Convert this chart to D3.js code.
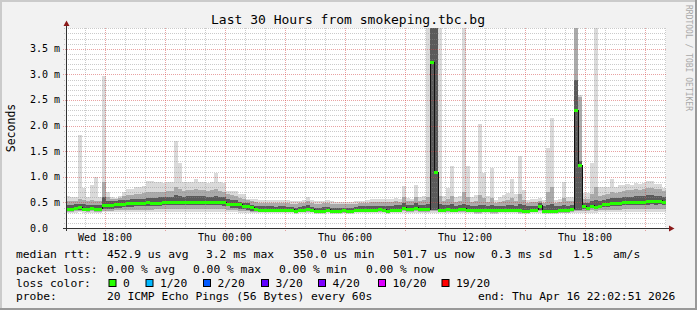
<!DOCTYPE html>
<html>
<head>
<meta charset="utf-8">
<script src="https://cdn.jsdelivr.net/npm/d3@7"></script>
<style>
body { margin: 0; background: #fff; }
svg { display: block; font-family: "DejaVu Sans Mono", monospace; }
text { white-space: pre; }
</style>
</head>
<body>
<svg id="chart" width="697" height="310"></svg>
<script>
// smokeping graph, 30 hours, one column = 720 s
var startTime = "2026-04-15T16:02:51Z";
var endTime = "2026-04-16T22:02:51Z";
var stepSec = 720;

// median rtt per column (ms)
var medMs = [
 0.38,0.38,0.39,0.41,0.38,0.38,0.39,0.38,0.38,0.44,
 0.45,0.45,0.47,0.47,0.47,0.48,0.48,0.48,0.49,0.49,
 0.50,0.49,0.49,0.49,0.50,0.51,0.50,0.51,0.51,0.50,
 0.51,0.51,0.50,0.51,0.51,0.50,0.50,0.50,0.50,0.50,
 0.47,0.47,0.47,0.46,0.42,0.42,0.41,0.37,0.36,0.36,
 0.36,0.36,0.35,0.36,0.36,0.35,0.36,0.34,0.36,0.36,
 0.37,0.36,0.34,0.34,0.34,0.36,0.34,0.34,0.34,0.35,
 0.34,0.34,0.36,0.36,0.36,0.35,0.36,0.36,0.37,0.36,
 0.34,0.36,0.36,0.36,0.40,0.38,0.38,0.40,0.37,0.37,
 0.37,3.24,1.09,0.36,0.36,0.37,0.36,0.36,0.37,0.38,
 0.36,0.36,0.35,0.35,0.36,0.36,0.35,0.35,0.36,0.36,
 0.36,0.36,0.36,0.35,0.34,0.34,0.36,0.36,0.43,0.34,
 0.34,0.34,0.34,0.35,0.35,0.35,0.38,2.30,1.23,0.42,
 0.40,0.43,0.41,0.43,0.46,0.46,0.48,0.48,0.49,0.50,
 0.50,0.50,0.50,0.50,0.50,0.52,0.53,0.52,0.53,0.51
];
// smoke: outer (min..max) ping spread per column
var pingMin = [
 0.30,0.30,0.30,0.31,0.30,0.30,0.30,0.30,0.30,0.31,
 0.31,0.31,0.31,0.31,0.31,0.31,0.31,0.31,0.31,0.31,
 0.32,0.32,0.32,0.32,0.32,0.32,0.32,0.32,0.32,0.32,
 0.32,0.32,0.32,0.32,0.32,0.32,0.32,0.32,0.32,0.32,
 0.31,0.31,0.31,0.30,0.30,0.30,0.29,0.29,0.29,0.29,
 0.29,0.29,0.29,0.29,0.29,0.29,0.29,0.28,0.29,0.29,
 0.29,0.29,0.28,0.28,0.28,0.29,0.28,0.28,0.28,0.29,
 0.28,0.28,0.29,0.29,0.29,0.29,0.29,0.29,0.29,0.29,
 0.28,0.29,0.29,0.29,0.29,0.29,0.29,0.29,0.29,0.29,
 0.29,0.29,0.29,0.29,0.29,0.29,0.29,0.29,0.29,0.29,
 0.29,0.29,0.28,0.28,0.29,0.29,0.28,0.28,0.29,0.29,
 0.29,0.29,0.29,0.28,0.28,0.28,0.29,0.29,0.29,0.28,
 0.28,0.28,0.28,0.29,0.29,0.29,0.29,0.29,0.29,0.30,
 0.30,0.30,0.30,0.31,0.31,0.31,0.31,0.31,0.32,0.32,
 0.32,0.32,0.32,0.32,0.32,0.32,0.32,0.32,0.32,0.32
];
var pingMax = [
 0.62,0.60,0.60,1.82,0.78,0.60,0.84,0.99,0.60,2.97,
 0.71,0.60,0.58,0.62,0.70,0.77,0.77,0.80,0.80,0.82,
 0.92,0.92,0.89,0.89,0.87,0.90,0.90,1.70,1.27,0.90,
 0.90,0.90,0.95,0.90,0.90,0.88,0.90,1.07,0.90,0.87,
 0.73,0.73,0.73,0.67,0.67,0.57,0.57,0.57,0.55,0.55,
 0.54,0.55,0.55,0.54,0.55,0.54,0.52,0.52,0.53,0.55,
 0.61,0.54,0.52,0.52,0.53,0.54,0.53,0.51,0.50,0.50,
 0.50,0.51,0.52,0.53,0.53,0.54,0.56,0.56,0.57,0.57,
 0.57,0.57,0.58,0.57,0.82,0.58,0.57,0.84,0.60,0.62,
 3.95,3.95,3.95,3.95,0.62,0.78,1.21,0.60,0.62,3.95,
 1.21,0.60,0.65,2.04,1.07,0.62,1.17,0.55,0.60,0.64,
 0.68,0.96,0.66,1.41,0.74,0.55,0.57,0.57,0.58,0.55,
 1.56,2.15,0.55,0.57,0.90,0.60,0.60,3.95,2.60,0.68,
 0.68,1.27,3.95,0.80,0.80,0.80,0.95,0.80,0.84,0.84,
 0.86,0.84,0.88,0.86,0.88,0.92,0.92,0.86,0.86,0.78
];
// smoke: middle band
var midLow = [
 0.32,0.32,0.33,0.34,0.33,0.32,0.33,0.32,0.32,0.34,
 0.34,0.34,0.35,0.35,0.35,0.35,0.35,0.36,0.36,0.36,
 0.36,0.36,0.37,0.37,0.37,0.37,0.37,0.38,0.38,0.37,
 0.37,0.37,0.37,0.37,0.37,0.37,0.37,0.37,0.37,0.37,
 0.36,0.35,0.35,0.34,0.34,0.33,0.32,0.31,0.31,0.31,
 0.31,0.31,0.31,0.31,0.31,0.31,0.31,0.30,0.31,0.31,
 0.31,0.31,0.30,0.30,0.30,0.31,0.30,0.30,0.30,0.30,
 0.30,0.30,0.31,0.31,0.31,0.31,0.31,0.31,0.32,0.31,
 0.30,0.31,0.31,0.31,0.33,0.32,0.32,0.33,0.32,0.32,
 0.32,0.33,0.33,0.31,0.31,0.32,0.31,0.31,0.32,0.32,
 0.31,0.31,0.30,0.30,0.31,0.31,0.30,0.30,0.31,0.31,
 0.31,0.31,0.31,0.30,0.30,0.30,0.31,0.31,0.33,0.30,
 0.30,0.30,0.30,0.30,0.30,0.30,0.32,0.33,0.33,0.34,
 0.34,0.35,0.34,0.35,0.35,0.35,0.36,0.36,0.36,0.37,
 0.37,0.37,0.37,0.37,0.37,0.38,0.38,0.38,0.38,0.37
];
var midHigh = [
 0.52,0.52,0.53,0.56,0.54,0.52,0.54,0.53,0.52,0.90,
 0.60,0.57,0.57,0.58,0.62,0.64,0.65,0.66,0.67,0.68,
 0.70,0.70,0.71,0.70,0.70,0.72,0.72,0.80,0.76,0.73,
 0.74,0.74,0.76,0.75,0.74,0.73,0.74,0.76,0.73,0.71,
 0.66,0.64,0.62,0.58,0.56,0.54,0.52,0.50,0.49,0.49,
 0.49,0.49,0.48,0.48,0.49,0.48,0.47,0.47,0.48,0.49,
 0.52,0.48,0.47,0.47,0.48,0.48,0.47,0.46,0.46,0.46,
 0.46,0.47,0.47,0.48,0.48,0.49,0.50,0.50,0.51,0.51,
 0.51,0.51,0.52,0.51,0.60,0.52,0.52,0.60,0.53,0.54,
 0.60,3.95,3.95,0.62,0.52,0.56,0.62,0.50,0.52,0.70,
 0.60,0.50,0.52,0.64,0.58,0.50,0.58,0.49,0.50,0.52,
 0.54,0.58,0.52,0.66,0.54,0.49,0.50,0.50,0.52,0.49,
 0.70,0.80,0.49,0.50,0.58,0.52,0.52,3.95,2.56,0.56,
 0.56,0.66,0.80,0.62,0.64,0.66,0.70,0.68,0.70,0.72,
 0.74,0.74,0.76,0.75,0.76,0.78,0.78,0.76,0.76,0.72
];
// smoke: dense core around the median
var coreLow = [
 0.34,0.34,0.35,0.36,0.35,0.34,0.35,0.34,0.34,0.37,
 0.38,0.38,0.40,0.40,0.41,0.41,0.41,0.42,0.42,0.42,
 0.43,0.43,0.43,0.43,0.44,0.44,0.44,0.45,0.45,0.44,
 0.44,0.44,0.44,0.44,0.44,0.44,0.44,0.44,0.44,0.43,
 0.42,0.40,0.40,0.38,0.37,0.36,0.34,0.33,0.33,0.33,
 0.33,0.33,0.32,0.33,0.33,0.32,0.33,0.31,0.33,0.33,
 0.34,0.33,0.31,0.31,0.31,0.33,0.31,0.31,0.31,0.32,
 0.31,0.31,0.33,0.33,0.33,0.32,0.33,0.33,0.34,0.33,
 0.31,0.33,0.33,0.33,0.36,0.35,0.35,0.36,0.34,0.34,
 0.34,0.36,0.36,0.33,0.33,0.34,0.33,0.33,0.34,0.35,
 0.33,0.33,0.32,0.32,0.33,0.33,0.32,0.32,0.33,0.33,
 0.33,0.33,0.33,0.32,0.31,0.31,0.33,0.33,0.35,0.31,
 0.31,0.31,0.31,0.32,0.32,0.32,0.35,0.36,0.36,0.38,
 0.37,0.39,0.38,0.39,0.41,0.41,0.42,0.42,0.43,0.44,
 0.44,0.44,0.44,0.44,0.44,0.45,0.46,0.45,0.46,0.44
];
var coreHigh = [
 0.44,0.45,0.46,0.47,0.46,0.44,0.45,0.44,0.45,0.60,
 0.52,0.52,0.53,0.54,0.55,0.55,0.56,0.56,0.57,0.57,
 0.58,0.58,0.59,0.60,0.60,0.61,0.61,0.64,0.62,0.61,
 0.62,0.62,0.62,0.62,0.62,0.61,0.61,0.62,0.61,0.60,
 0.56,0.55,0.54,0.50,0.49,0.48,0.45,0.43,0.42,0.42,
 0.42,0.42,0.41,0.42,0.42,0.41,0.41,0.40,0.41,0.42,
 0.44,0.41,0.40,0.40,0.41,0.41,0.40,0.40,0.40,0.40,
 0.40,0.40,0.41,0.42,0.42,0.42,0.43,0.43,0.43,0.43,
 0.43,0.43,0.44,0.44,0.48,0.45,0.45,0.48,0.45,0.45,
 0.46,3.95,3.95,0.46,0.44,0.45,0.46,0.43,0.44,0.46,
 0.45,0.43,0.43,0.45,0.45,0.43,0.44,0.42,0.43,0.43,
 0.44,0.45,0.43,0.46,0.44,0.42,0.42,0.43,0.49,0.42,
 0.45,0.46,0.42,0.42,0.45,0.43,0.45,2.90,1.30,0.48,
 0.48,0.52,0.55,0.52,0.54,0.56,0.58,0.58,0.59,0.60,
 0.61,0.61,0.62,0.62,0.62,0.64,0.64,0.63,0.63,0.61
];

var xTickTimes = ["2026-04-15T18:00:00Z", "2026-04-16T00:00:00Z", "2026-04-16T06:00:00Z",
                  "2026-04-16T12:00:00Z", "2026-04-16T18:00:00Z"];
var xTickLabels = ["Wed 18:00", "Thu 00:00", "Thu 06:00", "Thu 12:00", "Thu 18:00"];
var yTickValues = [0, 0.5, 1.0, 1.5, 2.0, 2.5, 3.0, 3.5];
var yTickLabels = ["0.0", "0.5 m", "1.0 m", "1.5 m", "2.0 m", "2.5 m", "3.0 m", "3.5 m"];

var rttLegend = ["452.9 us avg", "3.2 ms max", "350.0 us min", "501.7 us now", "0.3 ms sd", "1.5", "am/s"];
var lossLegend = ["0.00 % avg", "0.00 % max", "0.00 % min", "0.00 % now"];
var lossNames = ["0", "1/20", "2/20", "3/20", "4/20", "10/20", "19/20"];
var lossColors = ["#26ff00", "#00b8ff", "#0059ff", "#5e00ff", "#7e00ff", "#dd00ff", "#ff0000"];

var W = 697, H = 310;
var X0 = 66, X1 = 666, Y0 = 228, Y1 = 28;
var yMax = 3.906;

var svg = d3.select("#chart");

// background + 3d frame
svg.append("rect").attr("width", W).attr("height", H).attr("fill", "#f2f2f2");
svg.append("rect").attr("x", 0).attr("y", 0).attr("width", W).attr("height", 2).attr("fill", "#cbcbcb");
svg.append("rect").attr("x", 0).attr("y", 0).attr("width", 2).attr("height", H).attr("fill", "#cbcbcb");
svg.append("rect").attr("x", 0).attr("y", H - 2).attr("width", W).attr("height", 2).attr("fill", "#999");
svg.append("rect").attr("x", W - 2).attr("y", 0).attr("width", 2).attr("height", H).attr("fill", "#999");

svg.append("rect").attr("x", X0).attr("y", Y1).attr("width", X1 - X0).attr("height", Y0 - Y1).attr("fill", "#fff");

var t0 = new Date(startTime), t1 = new Date(endTime);
var xScale = d3.scaleUtc().domain([t0, t1]).range([X0, X1]);
var yScale = d3.scaleLinear().domain([0, yMax]).range([Y0, Y1]);

var n = medMs.length;
var colTimes = d3.range(n + 1).map(function(i) { return new Date(t0.getTime() + i * stepSec * 1000); });
var clipV = function(v) { return Math.min(v, yMax); };

// smoke layers, light to dark
var layers = [
    {lo: pingMin, hi: pingMax, color: "#dadada"},
    {lo: midLow, hi: midHigh, color: "#aaaaaa"},
    {lo: coreLow, hi: coreHigh, color: "#5a5a5a"}
];
layers.forEach(function(L) {
    svg.append("g").attr("shape-rendering", "crispEdges")
        .selectAll("rect").data(d3.range(n)).join("rect")
        .attr("x", function(i) { return xScale(colTimes[i]); })
        .attr("width", function(i) { return xScale(colTimes[i + 1]) - xScale(colTimes[i]); })
        .attr("y", function(i) { return yScale(clipV(L.hi[i])); })
        .attr("height", function(i) { return yScale(L.lo[i]) - yScale(clipV(L.hi[i])); })
        .attr("fill", L.color);
});

// grid (drawn over the data, like rrdtool)
var grid = svg.append("g").attr("shape-rendering", "crispEdges");
d3.utcHour.range(t0, t1).forEach(function(t) {
    var major = t.getUTCHours() % 3 == 0;
    var x = Math.round(xScale(t)) + 0.5;
    grid.append("line")
        .attr("x1", x).attr("x2", x).attr("y1", Y1).attr("y2", Y0 + (major ? 3 : 2))
        .attr("stroke", major ? "rgba(210,70,70,0.5)" : "rgba(140,140,140,0.45)")
        .attr("stroke-dasharray", "1,1");
});
d3.range(1, 40).forEach(function(k) {
    var v = k / 10;
    var major = k % 5 == 0;
    var y = Math.round(yScale(v)) + 0.5;
    grid.append("line")
        .attr("x1", X0 - (major ? 3 : 2)).attr("x2", X1).attr("y1", y).attr("y2", y)
        .attr("stroke", major ? "rgba(210,70,70,0.5)" : "rgba(140,140,140,0.45)")
        .attr("stroke-dasharray", "1,1");
});

// median: thin step line plus green loss-coloured segments
var stepPts = medMs.map(function(m, i) { return [xScale(colTimes[i]), yScale(m)]; });
stepPts.push([xScale(colTimes[n]), yScale(medMs[n - 1])]);
svg.append("path")
    .attr("d", d3.line().curve(d3.curveStepAfter)(stepPts))
    .attr("fill", "none").attr("stroke", "#111").attr("stroke-width", 1)
    .attr("shape-rendering", "crispEdges");
svg.append("g").attr("shape-rendering", "crispEdges")
    .selectAll("rect").data(medMs).join("rect")
    .attr("x", function(d, i) { return xScale(colTimes[i]); })
    .attr("width", function(d, i) { return xScale(colTimes[i + 1]) - xScale(colTimes[i]); })
    .attr("y", function(d) { return Math.round(yScale(d)) - 1.5; })
    .attr("height", 3)
    .attr("fill", lossColors[0]);

// axes
svg.append("line").attr("x1", X0 - 3).attr("x2", X1 + 4).attr("y1", Y0 + 0.5).attr("y2", Y0 + 0.5)
    .attr("stroke", "#333").attr("shape-rendering", "crispEdges");
svg.append("line").attr("x1", X0 + 0.5).attr("x2", X0 + 0.5).attr("y1", Y0 + 3).attr("y2", Y1 - 3)
    .attr("stroke", "#333").attr("shape-rendering", "crispEdges");
svg.append("path").attr("d", "M" + (X1 + 3) + "," + (Y0 - 2.5) + "L" + (X1 + 8.5) + "," + (Y0 + 0.5) + "L" + (X1 + 3) + "," + (Y0 + 3.5) + "Z")
    .attr("fill", "#8b1a1a");
svg.append("path").attr("d", "M" + (X0 - 2.5) + "," + (Y1 - 2) + "L" + (X0 + 0.5) + "," + (Y1 - 7.5) + "L" + (X0 + 3.5) + "," + (Y1 - 2) + "Z")
    .attr("fill", "#8b1a1a");

// tick labels
svg.append("g").selectAll("text").data(xTickTimes).join("text")
    .attr("x", function(d) { return xScale(new Date(d)); })
    .attr("y", 241)
    .attr("text-anchor", "middle")
    .attr("font-size", "10px")
    .text(function(d, i) { return xTickLabels[i]; });
svg.append("g").selectAll("text").data(yTickValues).join("text")
    .attr("x", 30)
    .attr("y", function(d) { return yScale(d) + 3.5; })
    .attr("font-size", "10px")
    .text(function(d, i) { return yTickLabels[i]; });

svg.append("text").attr("transform", "translate(15,128) rotate(-90)")
    .attr("text-anchor", "middle").attr("font-size", "11.5px").text("Seconds");

svg.append("text").attr("x", 348).attr("y", 24).attr("text-anchor", "middle")
    .attr("font-size", "13px").text("Last 30 Hours from smokeping.tbc.bg");

svg.append("text").attr("transform", "translate(686,5) rotate(90)")
    .attr("font-size", "8px").attr("fill", "#a8a8a8").text("RRDTOOL / TOBI OETIKER");

// legend
var lg = svg.append("g").attr("font-size", "11.3px");
function put(x, y, s) { lg.append("text").attr("x", x).attr("y", y).text(s); }

put(16, 258, "median rtt:");
[107, 206, 293, 393, 491, 573, 613].forEach(function(x, i) { put(x, 258, rttLegend[i]); });

put(16, 272.5, "packet loss:");
[107, 193, 279, 366].forEach(function(x, i) { put(x, 272.5, lossLegend[i]); });

put(16, 286.5, "loss color:");
[108.5, 145.5, 203, 261, 318, 378, 441.5].forEach(function(x, i) {
    lg.append("rect").attr("x", x + 0.5).attr("y", 279.5).attr("width", 7).attr("height", 7)
        .attr("fill", lossColors[i]).attr("stroke", "#000").attr("stroke-width", 1);
    put(x + 14.5, 286.5, lossNames[i]);
});

put(16, 300, "probe:");
put(107, 300, "20 ICMP Echo Pings (56 Bytes) every 60s");
put(478, 300, "end: Thu Apr 16 22:02:51 2026");
</script>
</body>
</html>
